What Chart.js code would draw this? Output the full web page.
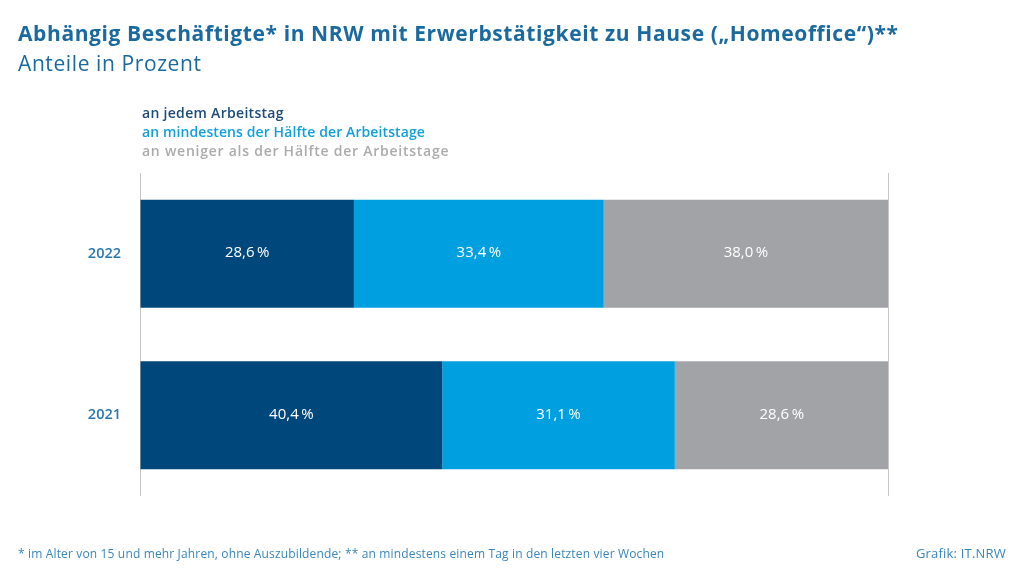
<!DOCTYPE html>
<html>
<head>
<meta charset="utf-8">
<script src="https://cdn.jsdelivr.net/npm/chart.js@4.4.0/dist/chart.umd.min.js"></script>
<style>
  html, body { margin: 0; padding: 0; background: #fff; }
  #wrap { position: relative; width: 1024px; height: 576px; overflow: hidden; font-family: "Open Sans", sans-serif; }
  #chart { position: absolute; left: 0; top: 0; }
  .txt { position: absolute; white-space: nowrap; }
  #title { left: 18px; top: 19px; font-size: 21px; letter-spacing: 0.6px; font-weight: 700; color: #1a6aa0; }
  #subtitle { left: 18px; top: 49px; font-size: 21px; letter-spacing: 0.6px; font-weight: 400; color: #1a6aa0; }
  .leg { left: 142px; font-size: 14px; letter-spacing: 0.3px; font-weight: 600; }
  #foot { left: 18px; top: 545px; font-size: 12px; letter-spacing: 0.15px; color: #3a86b8; }
  #src { right: 18px; top: 544px; font-size: 13px; letter-spacing: 0.2px; color: #3a86b8; }
</style>
</head>
<body>
<div id="wrap">
  <canvas id="chart" width="1024" height="576"></canvas>
  <div class="txt" id="title">Abhängig Beschäftigte* in NRW mit Erwerbstätigkeit zu Hause („Homeoffice“)**</div>
  <div class="txt" id="subtitle">Anteile in Prozent</div>
  <div id="legend"></div>
  <div class="txt" id="foot">* im Alter von 15 und mehr Jahren, ohne Auszubildende; ** an mindestens einem Tag in den letzten vier Wochen</div>
  <div class="txt" id="src">Grafik: IT.NRW</div>
</div>
<script>
const years = ["2022", "2021"];
const seriesNames = [
  "an jedem Arbeitstag",
  "an mindestens der Hälfte der Arbeitstage",
  "an weniger als der Hälfte der Arbeitstage"
];
const everyDay = [28.6, 40.4];
const halfOrMore = [33.4, 31.1];
const lessThanHalf = [38.0, 28.6];
const barColors = ["#00487b", "#009fe0", "#a2a3a7"];
const legendColors = ["#1d4b78", "#12a0dd", "#ababab"];
const legendSpacing = ["0.3px", "0.1px", "0.75px"];

// legend as coloured text lines
const legendBox = document.getElementById("legend");
seriesNames.forEach((name, i) => {
  const d = document.createElement("div");
  d.className = "txt leg";
  d.style.top = (103 + i * 19) + "px";
  d.style.color = legendColors[i];
  d.style.letterSpacing = legendSpacing[i];
  d.textContent = name;
  legendBox.appendChild(d);
});

const fmt = v => v.toFixed(1).replace(".", ",") + "\u2009%";

// white value labels inside each segment
const valueLabels = {
  id: "valueLabels",
  afterDatasetsDraw(chart) {
    const ctx = chart.ctx;
    ctx.save();
    ctx.fillStyle = "#ffffff";
    ctx.font = "500 15px 'Open Sans', sans-serif";
    ctx.textAlign = "center";
    ctx.textBaseline = "middle";
    chart.data.datasets.forEach((ds, di) => {
      chart.getDatasetMeta(di).data.forEach((bar, i) => {
        const cx = (bar.x + bar.base) / 2;
        ctx.fillText(fmt(ds.data[i]), cx, bar.y - 1);
      });
    });
    ctx.restore();
  }
};

const data = [everyDay, halfOrMore, lessThanHalf];

new Chart(document.getElementById("chart"), {
  type: "bar",
  data: {
    labels: years,
    datasets: seriesNames.map((name, i) => ({
      label: name,
      data: data[i],
      backgroundColor: barColors[i],
      borderWidth: 0,
      categoryPercentage: 1,
      barPercentage: 0.67
    }))
  },
  options: {
    indexAxis: "y",
    responsive: false,
    animation: false,
    layout: { padding: { left: 0, right: 136, top: 173, bottom: 80 } },
    plugins: { legend: { display: false }, tooltip: { enabled: false } },
    scales: {
      x: {
        stacked: true,
        min: 0,
        max: 100,
        ticks: { display: false, stepSize: 100 },
        grid: { color: "#c6c6c6", lineWidth: 1, drawTicks: false },
        border: { display: false }
      },
      y: {
        stacked: true,
        grid: { display: false, drawTicks: false },
        border: { display: false },
        ticks: {
          color: "#2a78ad",
          padding: 19,
          font: { family: "'Open Sans', sans-serif", size: 14.5, weight: "600" }
        },
        afterFit(scale) { scale.width = 140; }
      }
    }
  },
  plugins: [valueLabels]
});
</script>
</body>
</html>
